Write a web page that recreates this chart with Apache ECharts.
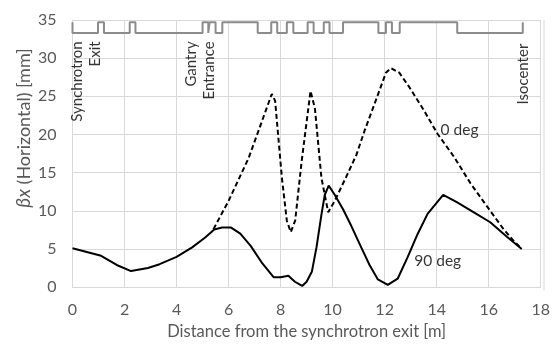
<!DOCTYPE html>
<html><head><meta charset="utf-8">
<script src="https://cdn.jsdelivr.net/npm/echarts@6.0.0/dist/echarts.min.js"></script>
<style>html,body{margin:0;padding:0;background:#fff}#c{width:553px;height:345px}</style>
</head><body><div id="c"></div>
<script>
// ---- data ----
const xMin = 0, xMax = 18, xStep = 2;
const yMin = 0, yMax = 35, yStep = 5;

// 90 deg (solid) beta-x [distance m, mm]
const deg90 = [[0,5.1],[0.55,4.6],[1.1,4.1],[1.7,2.9],[2.25,2.1],[2.9,2.5],[3.35,3.0],[4.0,3.95],
  [4.6,5.2],[5.1,6.5],[5.45,7.55],[5.75,7.8],[6.1,7.8],[6.45,7.0],[6.85,5.4],[7.3,3.1],[7.73,1.3],
  [8.0,1.3],[8.3,1.5],[8.55,0.7],[8.83,0.15],[9.0,0.7],[9.2,2.0],[9.38,5.2],[9.57,9.5],[9.7,12.1],
  [9.85,13.3],[10.08,12.1],[10.4,10.2],[10.72,8.0],[11.1,5.2],[11.42,2.9],[11.74,1.0],[12.12,0.28],
  [12.5,1.1],[12.88,3.9],[13.26,6.9],[13.65,9.6],[14.25,12.1],[14.79,11.1],[15.43,9.8],[16.06,8.5],
  [16.7,6.6],[17.27,5.0]];

// 0 deg (dashed) beta-x
const deg0 = [[5.42,7.6],[6.0,11.3],[6.77,16.9],[7.66,25.3],[7.79,24.4],[8.05,14.3],[8.24,8.7],
  [8.39,7.2],[8.56,8.7],[8.81,16.5],[9.15,25.7],[9.32,23.4],[9.57,14.3],[9.83,9.8],[10.08,11.3],
  [10.53,14.5],[10.91,17.3],[11.23,20.5],[11.61,24.0],[12.05,28.1],[12.24,28.7],[12.56,28.1],
  [12.95,26.2],[13.52,23.1],[14.03,20.1],[14.66,17.1],[15.3,13.6],[15.93,10.6],[16.57,7.6],
  [16.95,6.1],[17.27,5.0]];

// beamline lattice elements (start, end) in m
const latticeBoxes = [[0.98,1.21],[2.2,2.42],[5.0,5.22],[5.27,5.5],[5.76,7.12],[7.64,7.87],
  [8.24,8.49],[9.04,9.27],[9.66,9.88],[10.4,11.76],[12.05,12.28],[12.58,14.79]];
const latticeStart = 0, latticeEnd = 17.31;
const latticeBase = 33.3, latticeTop = 34.7;

// annotations
const vertTexts = ['Synchrotron\nExit', 'Gantry\nEntrance', 'Isocenter'];
const vertX = [0.53, 4.9, 17.33];
const vertY = [32.2, 32.2, 31.9];
const curveTexts = ['0 deg', '90 deg'];
const curveX = [14.15, 13.14];
const curveY = [20.6, 3.45];

// ---- build ----
const lattice = [[latticeStart, latticeTop], [latticeStart, latticeBase]];
latticeBoxes.forEach(([a, b]) => {
  lattice.push([a, latticeBase], [a, latticeTop], [b, latticeTop], [b, latticeBase]);
});
lattice.push([latticeEnd, latticeBase], [latticeEnd, latticeTop]);

const FONT = 'Lato';
const GRAY = '#595959';
const GRID = '#d9d9d9';

const chart = echarts.init(document.getElementById('c'), null, {renderer: 'canvas'});
chart.setOption({
  animation: false,
  backgroundColor: '#fff',
  textStyle: {fontFamily: FONT},
  grid: {left: 72.5, right: 9, top: 20, bottom: 54.5, containLabel: false},
  xAxis: {
    type: 'value', min: xMin, max: xMax, interval: xStep,
    name: 'Distance from the synchrotron exit [m]', nameLocation: 'middle', nameGap: 30,
    nameTextStyle: {color: GRAY, fontSize: 16.5, fontFamily: FONT},
    axisLine: {show: true, lineStyle: {color: GRID, width: 1}},
    axisTick: {show: false},
    axisLabel: {color: GRAY, fontSize: 16, margin: 15, fontFamily: FONT},
    splitLine: {show: true, lineStyle: {color: GRID, width: 1}}
  },
  yAxis: {
    type: 'value', min: yMin, max: yMax, interval: yStep,
    axisLine: {show: true, lineStyle: {color: GRID, width: 1}},
    axisTick: {show: false},
    axisLabel: {color: GRAY, fontSize: 16, margin: 16, fontFamily: FONT},
    splitLine: {show: true, lineStyle: {color: GRID, width: 1}}
  },
  graphic: [
    {type: 'line', shape: {x1: 544, y1: 20, x2: 544, y2: 290.5}, style: {stroke: GRID, lineWidth: 1}, silent: true},
    {
      type: 'text', x: 24, y: 128, rotation: Math.PI / 2,
      style: {
        text: '{it|βx} (Horizontal) [mm]',
        align: 'center', verticalAlign: 'middle',
        fill: GRAY, fontSize: 18, fontFamily: FONT,
        rich: {it: {fontStyle: 'italic', fontSize: 19, fill: GRAY, fontFamily: FONT}}
      }
    }
  ],
  series: [
    {
      type: 'line', data: lattice, symbol: 'none', silent: true,
      lineStyle: {color: '#8c8c8c', width: 2}, z: 3
    },
    {
      type: 'line', data: deg0, symbol: 'none', smooth: false,
      lineStyle: {color: '#000', width: 2, type: [5, 3]}, z: 4
    },
    {
      type: 'line', data: deg90, symbol: 'none', smooth: false,
      lineStyle: {color: '#000', width: 2}, z: 5
    },
    {
      type: 'scatter', symbolSize: 0, silent: true, z: 6,
      data: vertTexts.map((t, i) => ({value: [vertX[i], vertY[i]], name: t})),
      label: {
        show: true, position: 'inside', formatter: p => p.name, rotate: 90,
        align: 'right', verticalAlign: 'middle', color: '#000',
        fontSize: 15, lineHeight: 18, fontFamily: FONT
      }
    },
    {
      type: 'scatter', symbolSize: 0, silent: true, z: 6,
      data: curveTexts.map((t, i) => ({value: [curveX[i], curveY[i]], name: t})),
      label: {
        show: true, position: 'inside', formatter: p => p.name,
        align: 'left', verticalAlign: 'middle', color: '#000',
        fontSize: 15.5, fontFamily: FONT
      }
    }
  ]
});
</script></body></html>
